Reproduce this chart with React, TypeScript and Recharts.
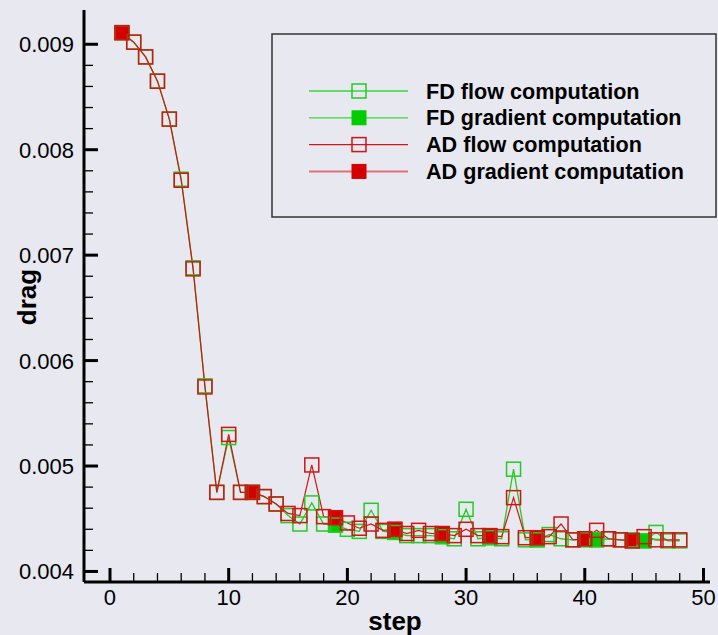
import { ComposedChart, Line, Scatter, XAxis, YAxis, Legend, Label } from 'recharts'

const STEPS = [
  1, 2, 3, 4, 5, 6, 7, 8, 9, 10, 11, 12, 13, 14, 15, 16, 17, 18, 19, 20, 21, 22, 23, 24,
  25, 26, 27, 28, 29, 30, 31, 32, 33, 34, 35, 36, 37, 38, 39, 40, 41, 42, 43, 44, 45, 46, 47, 48,
]
const FD_FLOW = [
  0.00911, 0.00902, 0.00888, 0.00865, 0.00829, 0.00772, 0.00688, 0.00576, 0.00475, 0.00527,
  0.00475, 0.00475, 0.00471, 0.00464, 0.00453, 0.00445, 0.00465, 0.00445, 0.00444, 0.0044,
  0.00438, 0.00458, 0.00438, 0.00437, 0.00434, 0.00434, 0.00434, 0.00433, 0.00431, 0.00459,
  0.00431, 0.00432, 0.00431, 0.00497, 0.0043, 0.0043, 0.00435, 0.00431, 0.0043, 0.0043,
  0.0043, 0.00431, 0.0043, 0.0043, 0.00429, 0.00437, 0.00429, 0.00429,
]
const AD_FLOW = [
  0.00911, 0.00902, 0.00888, 0.00865, 0.00829, 0.00771, 0.00687, 0.00575, 0.00475, 0.0053,
  0.00475, 0.00475, 0.00471, 0.00464, 0.00455, 0.00453, 0.00501, 0.00452, 0.00451, 0.00446,
  0.00441, 0.00445, 0.00439, 0.0044, 0.00436, 0.00439, 0.00436, 0.00436, 0.00434, 0.0044,
  0.00434, 0.00434, 0.00433, 0.0047, 0.00432, 0.00432, 0.00433, 0.00445, 0.0043, 0.00431,
  0.00439, 0.00431, 0.0043, 0.00429, 0.00433, 0.0043, 0.0043, 0.0043,
]
const FD_GRAD_STEPS = [1, 12, 19, 24, 28, 32, 36, 41, 45]
const FD_GRAD = [0.00911, 0.00475, 0.00444, 0.00437, 0.00433, 0.00432, 0.0043, 0.0043, 0.00429]
const AD_GRAD_STEPS = [1, 12, 19, 24, 28, 32, 36, 40, 44]
const AD_GRAD = [0.00911, 0.00475, 0.00451, 0.0044, 0.00436, 0.00434, 0.00432, 0.00431, 0.00429]

const X_TICKS = [0, 2, 4, 6, 8, 10, 12, 14, 16, 18, 20, 22, 24, 26, 28, 30, 32, 34, 36, 38, 40, 42, 44, 46, 48, 50]
const X_LABELS = [0, 10, 20, 30, 40, 50]
const Y_TICKS = [
  0.004, 0.0042, 0.0044, 0.0046, 0.0048, 0.005, 0.0052, 0.0054, 0.0056, 0.0058, 0.006, 0.0062, 0.0064,
  0.0066, 0.0068, 0.007, 0.0072, 0.0074, 0.0076, 0.0078, 0.008, 0.0082, 0.0084, 0.0086, 0.0088, 0.009,
]
const Y_LABELS = [0.004, 0.005, 0.006, 0.007, 0.008, 0.009]

const BG = '#e8e8f0'
const GREEN = '#22cc22'
const GREEN_FILL = '#00cc00'
const RED = '#d01515'
const RED_FILL = '#d40000'
const FONT = '"Liberation Sans", Arial, Helvetica, sans-serif'

const flowData = STEPS.map((step, i) => ({ step, fd: FD_FLOW[i], ad: AD_FLOW[i] }))
const fdGradData = FD_GRAD_STEPS.map((step, i) => ({ step, drag: FD_GRAD[i] }))
const adGradData = AD_GRAD_STEPS.map((step, i) => ({ step, drag: AD_GRAD[i] }))

const LEGEND_ITEMS = [
  { label: 'FD flow computation', color: GREEN, filled: false, line: '#3ad83a', lw: 1.3 },
  { label: 'FD gradient computation', color: GREEN_FILL, filled: true, line: '#3ad83a', lw: 1.3 },
  { label: 'AD flow computation', color: RED, filled: false, line: '#cc1a1a', lw: 1.2 },
  { label: 'AD gradient computation', color: RED_FILL, filled: true, line: '#e07078', lw: 2 },
]

const box = (color: string, filled: boolean) => (props: any) => {
  const { cx, cy } = props
  if (cx == null || cy == null) return <g key={props.key ?? props.index} />
  return (
    <rect
      key={props.key ?? props.index}
      x={cx - 7}
      y={cy - 7}
      width={14}
      height={14}
      fill={filled ? color : 'none'}
      stroke={color}
      strokeWidth={filled ? 1 : 1.5}
    />
  )
}

const near = (list: number[], v: number) => list.some((t) => Math.abs(t - v) < 1e-9)

const XTick = (props: any) => {
  const { x, y, payload } = props
  const major = near(X_LABELS, payload.value)
  return (
    <g>
      <line x1={x} x2={x} y1={y} y2={y - (major ? 14 : 9)} stroke="#000" strokeWidth={major ? 3 : 1.3} />
      {major ? (
        <text x={x} y={y + 23} textAnchor="middle" fontSize={22} fontFamily={FONT} fill="#000">
          {payload.value}
        </text>
      ) : null}
    </g>
  )
}

const YTick = (props: any) => {
  const { x, y, payload } = props
  const major = near(Y_LABELS, payload.value)
  return (
    <g>
      <line x1={x} x2={x + (major ? 14 : 9)} y1={y} y2={y} stroke="#000" strokeWidth={major ? 3 : 1.3} />
      {major ? (
        <text x={x - 10} y={y + 8} textAnchor="end" fontSize={22} fontFamily={FONT} fill="#000">
          {payload.value.toFixed(3)}
        </text>
      ) : null}
    </g>
  )
}

const LegendBox = () => (
  <svg width={447} height={186}>
    <rect x={1} y={1} width={444} height={183} fill="none" stroke="#333" strokeWidth={1.5} />
    {LEGEND_ITEMS.map((it, i) => {
      const cy = 58 + i * 26.8
      return (
        <g key={it.label}>
          <line x1={38} x2={137} y1={cy} y2={cy} stroke={it.line} strokeWidth={it.lw} />
          <rect
            x={81}
            y={cy - 7}
            width={14}
            height={14}
            fill={it.filled ? it.color : 'none'}
            stroke={it.color}
            strokeWidth={it.filled ? 1 : 1.5}
          />
          <text x={155} y={cy + 7.5} fontSize={21.6} fontWeight="bold" fontFamily={FONT} fill="#000">
            {it.label}
          </text>
        </g>
      )
    })}
  </svg>
)

export default function App() {
  return (
    <div style={{ position: 'absolute', left: 0, top: 0, width: 718, height: 635, background: BG }}>
      <ComposedChart width={718} height={635} data={flowData} margin={{ top: 10, right: 8, bottom: 0, left: 0 }}>
        <XAxis
          type="number"
          dataKey="step"
          domain={[-2.19, 50.55]}
          allowDataOverflow
          ticks={X_TICKS}
          interval={0}
          tickSize={0}
          tickMargin={0}
          tickLine={false}
          tick={<XTick />}
          height={53}
          axisLine={{ stroke: '#000', strokeWidth: 3 }}
        >
          <Label
            content={() => (
              <text x={395} y={630} textAnchor="middle" fontSize={26} fontWeight="bold" fontFamily={FONT} fill="#000">
                step
              </text>
            )}
          />
        </XAxis>
        <YAxis
          type="number"
          domain={[0.0039, 0.009325]}
          allowDataOverflow
          ticks={Y_TICKS}
          interval={0}
          tickSize={0}
          tickMargin={0}
          tickLine={false}
          tick={<YTick />}
          width={84}
          axisLine={{ stroke: '#000', strokeWidth: 3 }}
        >
          <Label
            content={() => (
              <text
                x={27}
                y={297}
                transform="rotate(-90, 27, 297)"
                textAnchor="middle"
                dominantBaseline="central"
                fontSize={26}
                fontWeight="bold"
                fontFamily={FONT}
                fill="#000"
              >
                drag
              </text>
            )}
          />
        </YAxis>
        <Legend
          layout="vertical"
          align="center"
          verticalAlign="middle"
          content={() => <LegendBox />}
          wrapperStyle={{ position: 'absolute', left: 271, top: 33, width: 447, height: 186 }}
        />
        <Line
          dataKey="fd"
          type="linear"
          stroke={GREEN}
          strokeWidth={1.3}
          dot={box(GREEN, false)}
          activeDot={false}
          isAnimationActive={false}
        />
        <Scatter data={fdGradData} dataKey="drag" shape={box(GREEN_FILL, true)} isAnimationActive={false} />
        <Line
          dataKey="ad"
          type="linear"
          stroke={RED}
          strokeWidth={1.2}
          dot={box(RED, false)}
          activeDot={false}
          isAnimationActive={false}
        />
        <Scatter data={adGradData} dataKey="drag" shape={box(RED_FILL, true)} isAnimationActive={false} />
      </ComposedChart>
    </div>
  )
}
